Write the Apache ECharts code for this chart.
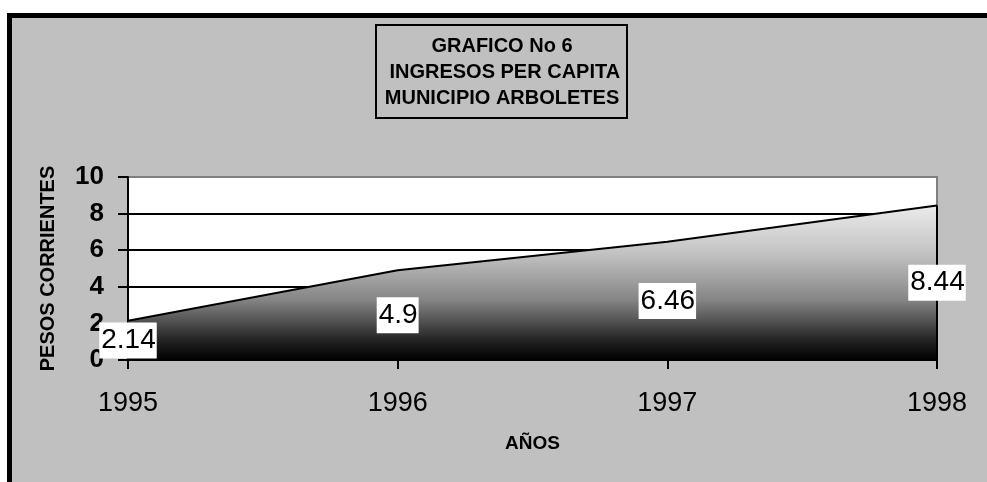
<!DOCTYPE html>
<html>
<head>
<meta charset="utf-8">
<script src="https://cdn.jsdelivr.net/npm/echarts@6/dist/echarts.min.js"></script>
<style>
html,body{margin:0;padding:0;background:#fff;}
#c{width:987px;height:482px;}
</style>
</head>
<body>
<div id="c"></div>
<script>
var years = ['1995', '1996', '1997', '1998'];
var values = [2.14, 4.9, 6.46, 8.44];
var yTicks = [0, 2, 4, 6, 8, 10];
var titleLines = ['GRAFICO No 6', ' INGRESOS PER CAPITA', 'MUNICIPIO ARBOLETES'];
var yName = 'PESOS CORRIENTES';
var xName = 'AÑOS';

var FONT = '"Liberation Sans", Arial, sans-serif';
var chart = echarts.init(document.getElementById('c'), null, {renderer: 'canvas'});

var labelPts = values.map(function (v, i) { return [years[i], v / 2]; });

var option = {
  backgroundColor: '#ffffff',
  animation: false,
  graphic: [
    {type: 'rect', z: -100, shape: {x: 9.5, y: 15.5, width: 1000, height: 500},
     style: {fill: '#C0C0C0', stroke: '#000', lineWidth: 5}},
    {type: 'rect', z: -50, shape: {x: 376, y: 25, width: 251, height: 93},
     style: {fill: '#C0C0C0', stroke: '#000', lineWidth: 2}},
    {type: 'text', z: 50, x: 502, y: 33,
     style: {text: titleLines.join('\n'), fill: '#000', font: 'bold 20px ' + FONT,
             textAlign: 'center', textVerticalAlign: 'top', lineHeight: 26}}
  ],
  grid: {left: 128, right: 50, top: 177, bottom: 122, show: true,
         backgroundColor: '#ffffff', borderColor: '#808080', borderWidth: 2},
  xAxis: {
    type: 'category', data: years, boundaryGap: false,
    name: xName, nameLocation: 'middle', nameGap: 74,
    nameTextStyle: {fontFamily: FONT, fontWeight: 'bold', fontSize: 19, color: '#000'},
    axisLine: {show: true, lineStyle: {color: '#000', width: 2}},
    axisTick: {show: true, alignWithLabel: true, length: 9, lineStyle: {color: '#000', width: 2}},
    axisLabel: {fontFamily: FONT, fontSize: 27, color: '#000', margin: 30},
    splitLine: {show: false}
  },
  yAxis: {
    type: 'value', min: yTicks[0], max: yTicks[yTicks.length - 1], interval: yTicks[1] - yTicks[0],
    name: yName, nameLocation: 'middle', nameGap: 70, nameRotate: 90,
    nameTextStyle: {fontFamily: FONT, fontWeight: 'bold', fontSize: 20, color: '#000'},
    axisLine: {show: true, lineStyle: {color: '#000', width: 2}},
    axisTick: {show: true, length: 10, lineStyle: {color: '#000', width: 2}},
    axisLabel: {fontFamily: FONT, fontSize: 26, fontWeight: 'bold', color: '#000', margin: 24},
    splitLine: {show: true, lineStyle: {color: ['#000', '#000', '#000', '#000', '#000', '#808080'], width: 2}}
  },
  series: [
    {
      type: 'line', data: values, symbol: 'none', z: 3,
      lineStyle: {color: '#000', width: 2},
      areaStyle: {
        opacity: 1,
        color: new echarts.graphic.LinearGradient(0, 0, 0, 1, [
          {offset: 0, color: '#ebebeb'},
          {offset: 0.3, color: '#c4c4c4'},
          {offset: 0.48, color: '#a0a0a0'},
          {offset: 0.61, color: '#858585'},
          {offset: 0.74, color: '#555555'},
          {offset: 0.87, color: '#242424'},
          {offset: 1, color: '#000000'}
        ])
      },
      markLine: {
        silent: true, symbol: 'none', label: {show: false},
        lineStyle: {color: '#000', width: 2, type: 'solid'},
        data: [[{coord: [years[years.length - 1], 0]}, {coord: [years[years.length - 1], values[values.length - 1]]}]]
      }
    },
    {
      type: 'scatter', data: labelPts, symbolSize: 1, z: 10, silent: true,
      itemStyle: {color: 'rgba(0,0,0,0)', opacity: 1},
      label: {
        show: true, position: 'inside', opacity: 1,
        formatter: function (p) { return String(values[p.dataIndex]); },
        fontFamily: FONT, fontSize: 28, color: '#000', lineHeight: 30,
        backgroundColor: '#ffffff', padding: [3, 1, 3, 2]
      }
    }
  ]
};
chart.setOption(option);
</script>
</body>
</html>
